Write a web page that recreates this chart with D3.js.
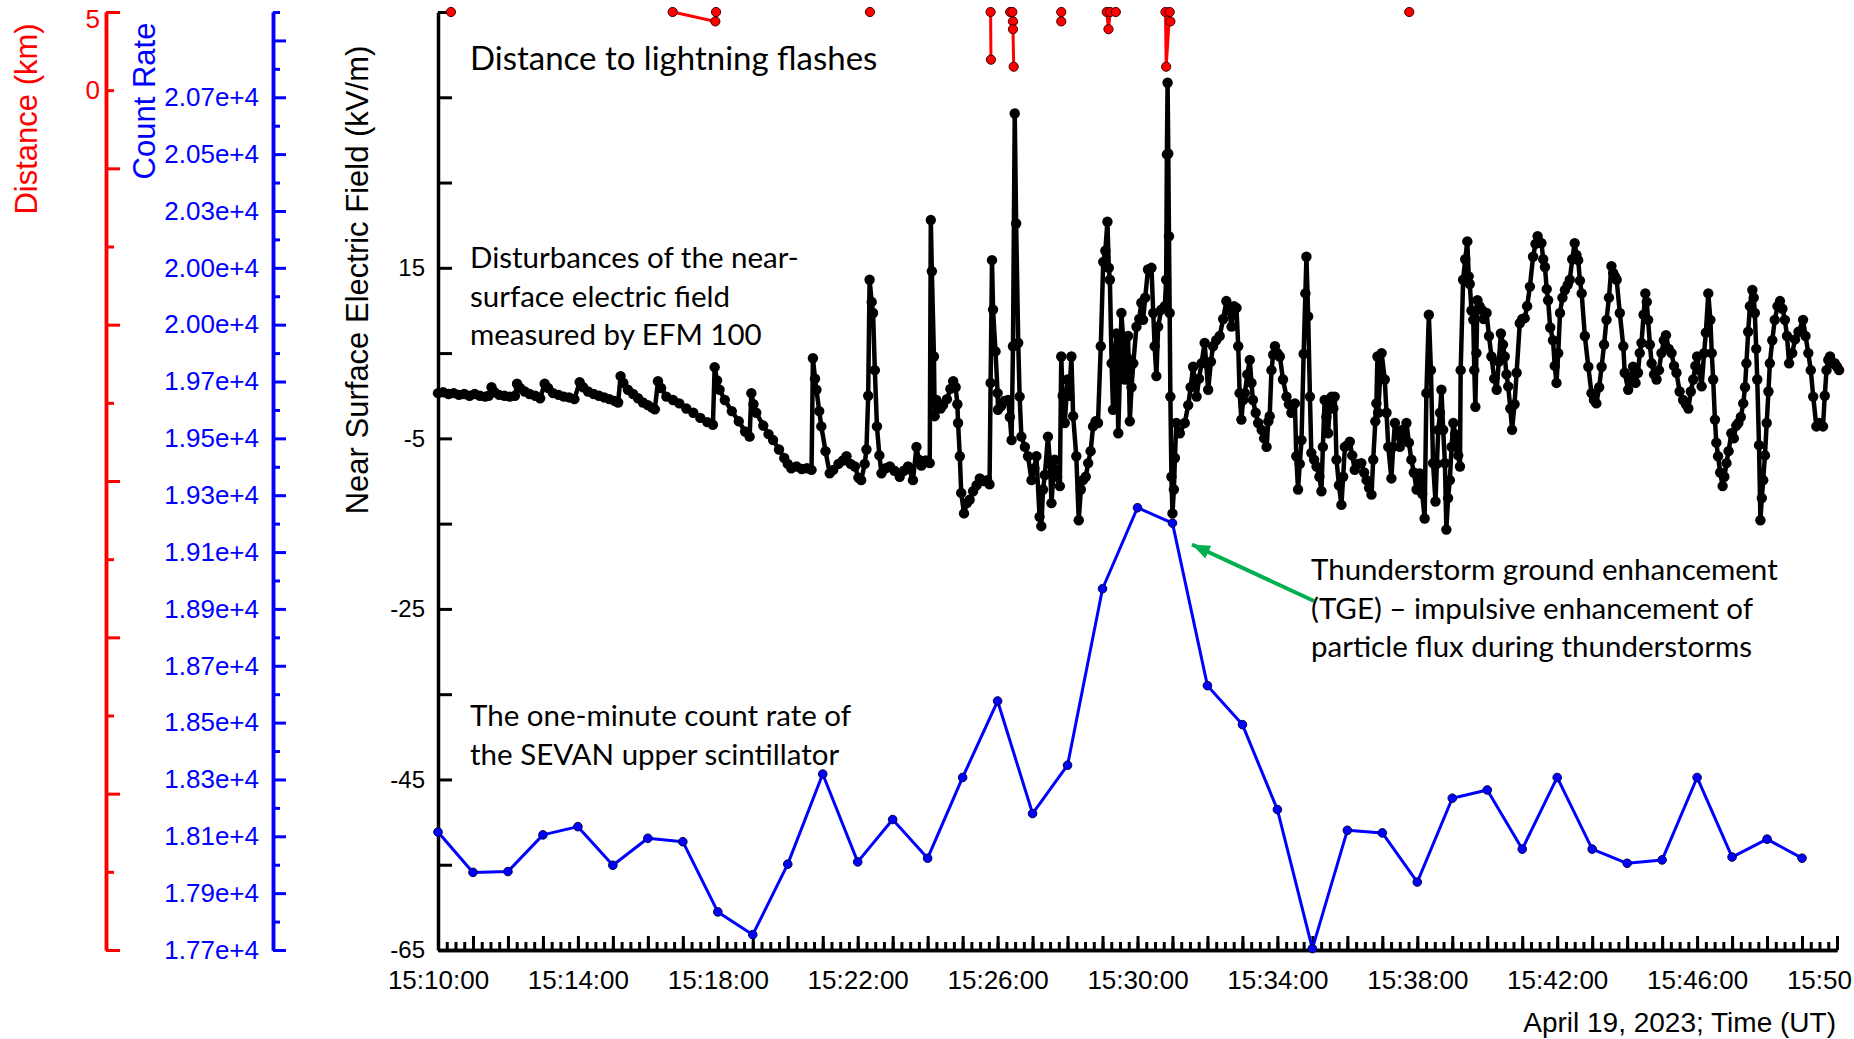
<!DOCTYPE html>
<html>
<head>
<meta charset="utf-8">
<script src="https://cdnjs.cloudflare.com/ajax/libs/d3/7.8.5/d3.min.js"></script>
<style>
  body { margin: 0; background: #fff; }
  svg { display: block; background: #fff; }
  .num { font-family: "Liberation Sans", Arial, sans-serif; }
  .note { font-family: Lato, "Open Sans", sans-serif; font-size: 29.5px; fill: #000; }
</style>
</head>
<body>
<svg id="chart" width="1854" height="1039"></svg>
<script>
const day = "2023-04-19";
const timeLabels = ["15:10:00", "15:14:00", "15:18:00", "15:22:00", "15:26:00", "15:30:00",
                    "15:34:00", "15:38:00", "15:42:00", "15:46:00", "15:50:00"];
const fieldTickLabels = [15, -5, -25, -45, -65];
const distTickLabels = [5, 0];
// bottom to top, 17700 .. 20700 every 200
const countTickLabels = ["1.77e+4", "1.79e+4", "1.81e+4", "1.83e+4", "1.85e+4", "1.87e+4",
                         "1.89e+4", "1.91e+4", "1.93e+4", "1.95e+4", "1.97e+4", "2.00e+4",
                         "2.00e+4", "2.03e+4", "2.05e+4", "2.07e+4"];

// one-minute count rate of SEVAN upper scintillator, 15:10 .. 15:49
const countRate = [18115, 17973, 17976, 18105, 18134, 17998, 18093, 18081, 17834, 17754,
                   18002, 18319, 18010, 18159, 18023, 18307, 18576, 18180, 18350, 18971,
                   19256, 19202, 18630, 18493, 18194, 17705, 18121, 18112, 17939, 18234,
                   18263, 18055, 18307, 18055, 18005, 18017, 18307, 18027, 18090, 18023];

// near surface electric field: [minutes after 15:10, kV/m]
const fieldSeries = [
  [0.00,0.3],[0.15,0.4],[0.30,0.2],[0.45,0.3],[0.60,0.1],[0.75,0.2],[0.90,0.0],[1.05,0.2],
  [1.20,0.0],[1.35,-0.1],[1.45,0.0],[1.53,1.0],[1.62,0.4],[1.75,0.1],[1.90,0.0],[2.05,-0.1],
  [2.20,0.0],[2.26,1.4],[2.35,0.9],[2.48,0.5],[2.62,0.2],[2.78,0.0],[2.92,-0.3],[3.05,1.4],
  [3.15,0.9],[3.29,0.3],[3.45,0.1],[3.60,-0.1],[3.75,-0.2],[3.90,-0.4],[4.05,1.6],[4.15,1.0],
  [4.29,0.5],[4.45,0.2],[4.60,0.0],[4.75,-0.2],[4.90,-0.4],[5.05,-0.6],[5.15,-0.8],[5.22,2.3],
  [5.30,1.5],[5.43,0.7],[5.58,0.2],[5.72,-0.3],[5.86,-0.8],[6.00,-1.1],[6.12,-1.4],[6.20,-1.6],
  [6.29,1.7],[6.38,0.9],[6.53,-0.1],[6.72,-0.5],[6.90,-0.9],[7.10,-1.5],[7.30,-2.0],[7.50,-2.6],
  [7.70,-3.1],[7.86,-3.4],[7.91,3.35],[7.98,1.8],[8.05,0.7],[8.20,-0.5],[8.40,-1.8],[8.60,-3.0],
  [8.78,-4.2],[8.91,-4.8],[8.96,0.3],[9.02,-1.0],[9.10,-2.0],[9.30,-3.5],[9.45,-4.5],[9.58,-5.2],
  [9.75,-6.3],[9.90,-7.3],[10.00,-8.0],[10.10,-8.5],[10.25,-8.3],[10.40,-8.6],[10.55,-8.5],[10.68,-8.7],
  [10.72,4.4],[10.78,2.0],[10.82,0.7],[10.90,-1.8],[10.96,-3.6],[11.08,-6.5],[11.20,-9.1],[11.30,-8.7],
  [11.45,-8.0],[11.58,-7.6],[11.68,-7.1],[11.80,-8.0],[11.92,-8.3],[12.02,-9.6],[12.10,-9.9],[12.20,-8.0],
  [12.25,-6.3],[12.30,0.0],[12.34,13.6],[12.40,11.0],[12.44,9.7],[12.49,3.0],[12.55,-3.6],[12.62,-7.0],
  [12.68,-9.1],[12.80,-8.5],[12.92,-8.3],[13.05,-8.8],[13.20,-9.5],[13.32,-8.8],[13.44,-8.3],[13.58,-9.9],
  [13.68,-6.0],[13.75,-7.5],[13.82,-8.2],[13.95,-7.6],[14.06,-7.9],[14.09,20.6],[14.12,14.6],[14.18,4.6],
  [14.20,-2.4],[14.25,-0.5],[14.30,-0.9],[14.37,-1.5],[14.44,-1.1],[14.55,-0.4],[14.65,0.8],[14.73,1.7],
  [14.80,1.0],[14.85,-1.0],[14.87,-3.2],[14.92,-7.1],[14.96,-11.4],[15.04,-13.8],[15.12,-12.6],[15.20,-12.2],
  [15.30,-11.2],[15.40,-10.5],[15.49,-9.7],[15.60,-10.0],[15.70,-9.9],[15.77,-10.4],[15.80,1.5],[15.84,15.9],
  [15.87,10.1],[15.94,5.2],[16.00,0.3],[16.01,-1.65],[16.10,-1.2],[16.20,-0.6],[16.30,-0.5],[16.35,-2.5],
  [16.40,-5.2],[16.44,5.8],[16.49,33.1],[16.53,20.2],[16.59,6.2],[16.63,-0.1],[16.68,-4.8],[16.78,-6.0],
  [16.87,-7.1],[16.97,-9.9],[17.05,-8.5],[17.11,-7.1],[17.20,-14.2],[17.25,-15.3],[17.30,-11.0],[17.35,-9.3],
  [17.44,-4.8],[17.50,-8.0],[17.54,-12.6],[17.60,-9.0],[17.63,-7.5],[17.70,-9.5],[17.78,-10.6],[17.82,4.6],
  [17.86,0.0],[17.92,-3.2],[18.00,1.9],[18.05,0.0],[18.11,4.6],[18.16,-2.4],[18.25,-7.1],[18.32,-14.6],
  [18.38,-11.0],[18.44,-9.9],[18.52,-9.5],[18.59,-7.9],[18.66,-6.5],[18.73,-3.6],[18.80,-3.0],[18.87,-3.2],
  [18.95,5.8],[19.02,15.7],[19.08,17.0],[19.14,20.4],[19.18,15.0],[19.21,13.6],[19.26,3.8],[19.30,-1.65],
  [19.35,4.0],[19.40,7.3],[19.45,-4.4],[19.50,3.0],[19.54,9.7],[19.60,6.0],[19.64,1.9],[19.70,4.5],
  [19.73,7.0],[19.78,-3.0],[19.83,1.0],[19.88,3.8],[19.97,8.1],[20.05,9.0],[20.11,10.9],[20.16,8.9],
  [20.22,11.5],[20.30,14.8],[20.40,15.0],[20.45,9.7],[20.49,5.8],[20.54,2.3],[20.59,8.1],[20.68,10.1],
  [20.78,10.5],[20.82,13.6],[20.84,28.3],[20.86,36.7],[20.88,28.4],[20.90,18.7],[20.92,9.7],[20.94,-0.1],
  [20.97,-9.5],[21.00,-13.8],[21.04,-11.0],[21.07,-7.3],[21.11,-3.2],[21.21,-4.4],[21.35,-3.2],[21.45,-1.1],
  [21.52,1.0],[21.59,3.4],[21.69,-0.1],[21.76,2.0],[21.83,3.8],[21.92,6.2],[22.02,0.7],[22.10,4.0],
  [22.16,5.8],[22.25,6.5],[22.35,7.0],[22.45,9.0],[22.54,11.1],[22.62,10.0],[22.69,8.1],[22.76,10.5],
  [22.83,10.3],[22.88,5.8],[22.92,0.3],[22.97,-2.8],[23.02,-0.5],[23.07,0.3],[23.14,2.5],[23.21,4.2],
  [23.26,1.5],[23.30,-0.5],[23.38,-2.0],[23.45,-3.2],[23.55,-4.0],[23.62,-5.0],[23.69,-6.0],[23.74,-3.0],
  [23.78,-2.4],[23.83,3.0],[23.88,4.8],[23.93,5.8],[24.00,5.0],[24.07,4.6],[24.16,1.9],[24.26,-0.1],
  [24.33,-1.0],[24.40,-2.0],[24.50,-0.9],[24.54,-7.1],[24.59,-11.0],[24.64,-8.0],[24.69,-5.2],[24.75,4.9],
  [24.80,12.0],[24.83,16.3],[24.88,9.3],[24.93,-0.1],[24.97,-6.7],[25.05,-7.5],[25.12,-8.3],[25.20,-9.5],
  [25.26,-11.2],[25.30,-6.0],[25.35,-0.5],[25.40,-2.5],[25.45,-4.4],[25.50,-1.0],[25.55,-0.1],[25.60,-1.5],
  [25.64,-0.1],[25.69,-7.5],[25.76,-10.5],[25.83,-12.8],[25.88,-9.5],[25.93,-6.0],[26.00,-5.8],[26.07,-5.4],
  [26.14,-7.0],[26.21,-8.7],[26.30,-8.0],[26.40,-7.9],[26.48,-9.0],[26.55,-9.9],[26.62,-10.8],[26.69,-11.6],
  [26.74,-7.5],[26.80,-3.0],[26.83,-0.9],[26.86,4.6],[26.88,-2.0],[26.98,5.0],[27.07,1.9],[27.12,-2.0],
  [27.17,-6.0],[27.26,-9.7],[27.31,-6.0],[27.36,-3.2],[27.43,-4.5],[27.50,-6.0],[27.57,-4.0],[27.63,-5.0],
  [27.69,-3.2],[27.76,-5.5],[27.83,-7.5],[27.90,-9.0],[27.98,-11.0],[28.03,-9.5],[28.07,-9.1],[28.14,-11.5],
  [28.21,-14.4],[28.26,0.3],[28.33,9.5],[28.39,3.0],[28.45,-7.9],[28.52,-12.4],[28.56,-8.0],[28.60,-4.0],
  [28.65,-2.0],[28.69,0.7],[28.74,-4.0],[28.79,-7.9],[28.83,-15.7],[28.88,-12.0],[28.93,-9.9],[28.98,-6.0],
  [29.03,-3.2],[29.08,-4.5],[29.12,-6.0],[29.17,-7.0],[29.22,-8.3],[29.24,3.0],[29.31,13.6],[29.37,16.0],
  [29.43,18.1],[29.47,14.0],[29.50,13.1],[29.55,10.0],[29.60,8.9],[29.63,3.0],[29.66,-1.3],[29.69,5.0],
  [29.72,11.2],[29.78,10.5],[29.84,10.1],[29.90,9.0],[29.98,9.7],[30.05,7.0],[30.12,4.6],[30.20,2.0],
  [30.27,0.7],[30.33,4.0],[30.39,7.3],[30.45,6.0],[30.50,4.6],[30.55,2.5],[30.60,1.1],[30.66,-1.5],
  [30.71,-4.0],[30.78,-1.0],[30.84,2.7],[30.93,8.5],[31.00,9.0],[31.07,9.1],[31.14,10.5],[31.22,12.8],
  [31.31,16.3],[31.38,17.8],[31.44,18.7],[31.50,18.0],[31.55,17.9],[31.60,16.0],[31.65,15.1],[31.70,12.5],
  [31.74,11.2],[31.80,8.0],[31.88,6.5],[31.93,3.5],[31.98,1.5],[32.03,5.0],[32.08,9.7],[32.15,11.5],
  [32.22,12.4],[32.30,13.0],[32.36,13.6],[32.43,16.0],[32.50,17.9],[32.55,16.5],[32.60,15.9],[32.65,13.5],
  [32.70,12.0],[32.79,7.0],[32.89,3.4],[32.98,0.3],[33.05,-0.5],[33.12,-0.9],[33.20,1.0],[33.27,3.4],
  [33.34,6.0],[33.41,8.9],[33.48,11.5],[33.55,15.2],[33.60,14.4],[33.65,14.0],[33.70,13.6],[33.79,9.7],
  [33.89,5.8],[33.93,2.7],[34.03,0.7],[34.10,2.0],[34.17,3.4],[34.24,1.5],[34.31,2.7],[34.36,5.0],
  [34.41,6.2],[34.47,9.5],[34.52,12.0],[34.56,11.0],[34.60,8.9],[34.65,6.0],[34.70,3.8],[34.77,2.5],
  [34.84,1.9],[34.91,3.0],[34.98,5.0],[35.05,6.5],[35.11,7.1],[35.19,5.5],[35.27,5.0],[35.34,3.5],
  [35.41,2.7],[35.50,0.5],[35.60,-0.5],[35.68,-1.0],[35.75,-1.5],[35.82,0.5],[35.89,1.9],[35.95,3.5],
  [36.00,4.6],[36.06,3.0],[36.13,1.1],[36.20,5.0],[36.25,7.4],[36.32,12.0],[36.38,8.9],[36.42,5.0],
  [36.46,1.9],[36.51,-2.8],[36.55,-5.5],[36.60,-7.1],[36.66,-9.0],[36.73,-10.6],[36.78,-9.5],[36.84,-7.9],
  [36.90,-6.5],[36.98,-4.4],[37.05,-5.0],[37.12,-3.5],[37.18,-3.2],[37.25,-2.5],[37.32,-0.9],[37.37,1.0],
  [37.41,3.8],[37.46,7.5],[37.51,10.5],[37.58,12.4],[37.62,11.5],[37.65,9.7],[37.69,5.5],[37.72,1.9],
  [37.77,-5.8],[37.81,-14.6],[37.85,-12.0],[37.89,-9.9],[37.94,-7.0],[37.99,-3.2],[38.04,0.5],[38.08,3.8],
  [38.15,6.5],[38.22,8.9],[38.30,10.5],[38.37,11.1],[38.44,10.2],[38.51,8.9],[38.57,7.0],[38.63,3.8],
  [38.72,5.0],[38.80,6.6],[38.90,7.5],[39.03,8.9],[39.10,7.0],[39.18,5.0],[39.25,3.0],[39.32,-0.1],
  [39.41,-3.6],[39.50,-3.2],[39.60,-3.6],[39.65,0.0],[39.70,3.0],[39.75,4.2],[39.80,4.6],[39.87,3.8],
  [39.94,3.8],[40.00,3.4],[40.06,3.0]
];

// distance to lightning flashes: [minutes after 15:10, km], null breaks the line
const flashSeries = [
  [0.37,5], null,
  [6.71,5],[7.93,4.4],[7.95,5], null,
  [12.35,5], null,
  [15.80,5],[15.81,1.95], null,
  [16.36,5],[16.42,5],[16.44,4.4],[16.44,3.9],[16.46,1.5], null,
  [17.82,5],[17.82,4.4], null,
  [19.12,5],[19.17,3.9],[19.22,5],[19.38,5], null,
  [20.80,5],[20.82,1.5],[20.92,5],[20.94,4.4], null,
  [27.77,5]
];

const red = "#ff0000", blue = "#0000ff";
const parse = d3.timeParse("%Y-%m-%d %H:%M:%S");
const t0 = parse(day + " 15:10:00");
const at = m => new Date(+t0 + Math.round(m * 60000));
const labelDates = timeLabels.map(s => parse(day + " " + s));

const svg = d3.select("#chart");

const x = d3.scaleTime().domain([t0, at(40)]).range([438, 1837]);
const yField = d3.scaleLinear().domain([-65, 45]).range([950, 12]);
const yCount = d3.scaleLinear().domain([17700, 21000]).range([950, 12]);
const yDist = d3.scaleLinear().domain([-55, 5]).range([950, 12]);

function paint(g, color, size) {
  g.attr("class", "num");
  g.select(".domain").attr("stroke", color).attr("stroke-width", 3.5);
  g.selectAll(".tick line").attr("stroke", color).attr("stroke-width", 3);
  g.selectAll(".tick text").attr("fill", color).attr("font-size", size)
    .attr("font-family", "'Liberation Sans', Arial, sans-serif");
}

// distance axis (red)
svg.append("g").attr("transform", "translate(106,0)")
  .call(d3.axisLeft(yDist).tickValues(d3.range(0, -51, -10)).tickSizeInner(-8).tickSizeOuter(0)
    .tickPadding(6).tickFormat(d => distTickLabels.includes(d) ? d : ""))
  .call(g => paint(g, red, 26));
svg.append("g").attr("transform", "translate(106,0)")
  .call(d3.axisLeft(yDist).tickValues(d3.range(5, -56, -10)).tickSizeInner(-14).tickSizeOuter(0)
    .tickPadding(6).tickFormat(d => distTickLabels.includes(d) ? d : ""))
  .call(g => paint(g, red, 26))
  .call(g => g.selectAll(".tick text").filter(d => d === 5).attr("dy", "0.6em"));

// count rate axis (blue)
svg.append("g").attr("transform", "translate(273,0)")
  .call(d3.axisLeft(yCount).tickValues(d3.range(17800, 21001, 200)).tickSizeInner(-7).tickSizeOuter(0)
    .tickFormat(""))
  .call(g => paint(g, blue, 26));
svg.append("g").attr("transform", "translate(273,0)")
  .call(d3.axisLeft(yCount).tickValues(d3.range(17700, 20901, 200)).tickSizeInner(-13).tickSizeOuter(0)
    .tickPadding(14).tickFormat((d, i) => countTickLabels[i] || ""))
  .call(g => paint(g, blue, 26));

// electric field axis (black)
svg.append("g").attr("transform", "translate(438,0)")
  .call(d3.axisLeft(yField).tickValues(d3.range(-65, 46, 10)).tickSizeInner(-14).tickSizeOuter(0)
    .tickPadding(13).tickFormat(d => fieldTickLabels.includes(d) ? d : ""))
  .call(g => paint(g, "#000", 24));

// time axis
svg.append("g").attr("transform", "translate(0,950)")
  .call(d3.axisBottom(x).tickValues(d3.range(0, 40.01, 0.25).map(at)).tickSizeInner(-8).tickSizeOuter(0)
    .tickFormat(""))
  .call(g => paint(g, "#000", 26));
svg.append("g").attr("transform", "translate(0,950)")
  .call(d3.axisBottom(x).tickValues(d3.range(0, 40.01, 1).map(at)).tickSizeInner(-14).tickSizeOuter(0)
    .tickPadding(21).tickFormat(d => {
      const i = labelDates.findIndex(l => +l === +d);
      return i < 0 ? "" : timeLabels[i];
    }))
  .call(g => paint(g, "#000", 26));

// axis titles
const title = (txt, tx, ty, color) => svg.append("text").attr("class", "num")
  .attr("transform", `translate(${tx},${ty}) rotate(-90)`)
  .attr("text-anchor", "middle").attr("font-size", 31).attr("fill", color).text(txt);
title("Distance (km)", 37, 119, red);
title("Count Rate", 155, 101, blue);
title("Near Surface Electric Field (kV/m)", 368, 280, "#000");

svg.append("text").attr("class", "num").attr("x", 1836).attr("y", 1032)
  .attr("text-anchor", "end").attr("font-size", 28).text("April 19, 2023; Time (UT)");

// count rate
const countPts = countRate.map((c, i) => [i, c]);
svg.append("path").datum(countPts)
  .attr("fill", "none").attr("stroke", blue).attr("stroke-width", 3).attr("stroke-linejoin", "round")
  .attr("d", d3.line().x(d => x(at(d[0]))).y(d => yCount(d[1])));
svg.append("g").selectAll("circle").data(countPts).join("circle")
  .attr("cx", d => x(at(d[0]))).attr("cy", d => yCount(d[1])).attr("r", 4.3)
  .attr("fill", blue).attr("stroke", "#000040").attr("stroke-width", 1);

// electric field
svg.append("path").datum(fieldSeries)
  .attr("fill", "none").attr("stroke", "#000").attr("stroke-width", 4.5).attr("stroke-linejoin", "round")
  .attr("d", d3.line().x(d => x(at(d[0]))).y(d => yField(d[1])));
svg.append("g").selectAll("circle").data(fieldSeries).join("circle")
  .attr("cx", d => x(at(d[0]))).attr("cy", d => yField(d[1])).attr("r", 5.2).attr("fill", "#000");

// lightning distance
svg.append("path").datum(flashSeries)
  .attr("fill", "none").attr("stroke", red).attr("stroke-width", 3)
  .attr("d", d3.line().defined(d => d !== null).x(d => x(at(d[0]))).y(d => yDist(d[1])));
svg.append("g").selectAll("circle").data(flashSeries.filter(d => d)).join("circle")
  .attr("cx", d => x(at(d[0]))).attr("cy", d => yDist(d[1])).attr("r", 4.6)
  .attr("fill", red).attr("stroke", "#400000").attr("stroke-width", 1);

// notes
const note = (lines, tx, ty, size) => svg.append("text").attr("class", "note")
  .attr("font-size", size).style("font-size", size + "px")
  .selectAll("tspan").data(lines).join("tspan")
  .attr("x", tx).attr("y", (d, i) => ty + i * 38.5).text(d => d);
note(["Distance to lightning flashes"], 470, 70, 33);
note(["Disturbances of the near-", "surface electric field", "measured by EFM 100"], 470, 268, 29.5);
note(["The one-minute count rate of", "the SEVAN upper scintillator"], 470, 726, 29.5);
note(["Thunderstorm ground enhancement", "(TGE) \u2013 impulsive enhancement of",
      "particle flux during thunderstorms"], 1311, 580, 29.5);

// green arrow to the TGE peak
const green = "#00b050";
svg.append("defs").append("marker").attr("id", "head")
  .attr("markerUnits", "userSpaceOnUse").attr("markerWidth", 20).attr("markerHeight", 16)
  .attr("viewBox", "0 -8 20 16").attr("refX", 18).attr("refY", 0).attr("orient", "auto")
  .append("path").attr("d", "M0,-7L18,0L0,7Z").attr("fill", green);
svg.append("line").attr("x1", 1314).attr("y1", 601).attr("x2", 1192).attr("y2", 544.5)
  .attr("stroke", green).attr("stroke-width", 4).attr("marker-end", "url(#head)");
</script>
</body>
</html>
